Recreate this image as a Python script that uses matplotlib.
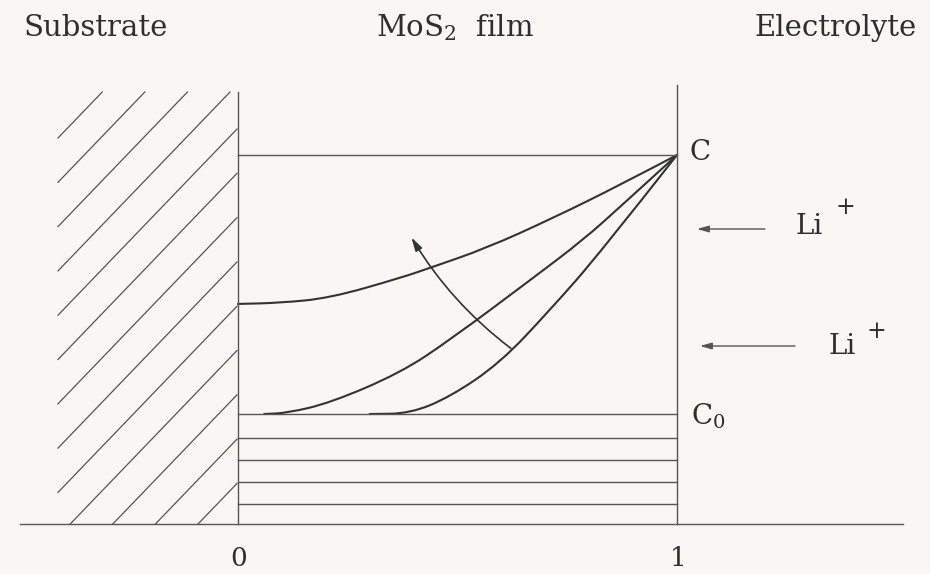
import matplotlib
matplotlib.use("Agg")
import matplotlib.pyplot as plt
from matplotlib.patches import FancyArrowPatch, PathPatch
from matplotlib.path import Path

plt.rcParams['font.family'] = ['DejaVu Serif']
plt.rcParams['mathtext.fontset'] = 'dejavuserif'

# concentration profiles: x = position in film (0 substrate side, 1 electrolyte side),
# y = normalised concentration (0 = C0, 1 = C)
x1 = [0.0, 0.096, 0.210, 0.369, 0.437, 0.567, 0.718, 0.870, 1.0]
y1 = [0.425, 0.429, 0.448, 0.525, 0.564, 0.641, 0.757, 0.884, 1.0]
x2 = [0.060, 0.112, 0.210, 0.369, 0.483, 0.672, 0.786, 0.870, 1.0]
y2 = [0.0, 0.004, 0.043, 0.158, 0.286, 0.525, 0.672, 0.799, 1.0]
x3 = [0.30, 0.392, 0.483, 0.597, 0.711, 0.825, 1.0]
y3 = [0.0, 0.002, 0.066, 0.197, 0.402, 0.622, 1.0]

# initial layered region below C0
layers = [0.0, -0.093, -0.178, -0.263, -0.347]
base = -0.425
c_level = 1.0

# pixel <-> data mapping of the scanned drawing
W, H = 930, 574
X0, SX, Y0, SY = 238.0, 439.0, 414.0, 259.0


def dx(px):
    return (px - X0) / SX


def dy(py):
    return (Y0 - py) / SY


def ff(px, py):
    return (px / W, 1 - py / H)


def smooth(xs, ys):
    pts = list(zip(xs, ys))
    verts = [pts[0], ((pts[0][0] + pts[1][0]) / 2, (pts[0][1] + pts[1][1]) / 2)]
    codes = [Path.MOVETO, Path.LINETO]
    for i in range(1, len(pts) - 1):
        nxt = pts[i + 1]
        mid = ((pts[i][0] + nxt[0]) / 2, (pts[i][1] + nxt[1]) / 2)
        if i == len(pts) - 2:
            mid = nxt
        verts += [pts[i], mid]
        codes += [Path.CURVE3, Path.CURVE3]
    return Path(verts, codes)


line_col = '#555555'
curve_col = '#333333'
txt_col = '#2e2e2e'

fig = plt.figure(figsize=(9.3, 5.74), dpi=100)
fig.patch.set_facecolor('#f8f7f4')
ax = fig.add_axes([0, 0, 1, 1])
ax.set_facecolor('#f8f7f4')
ax.set_xlim(dx(0), dx(W))
ax.set_ylim(dy(H), dy(0))
ax.axis('off')

# baseline and boundaries
ax.plot([dx(20), dx(903)], [base, base], color=line_col, lw=1.0)
ax.plot([0, 0], [base, dy(92)], color=line_col, lw=1.0)
ax.plot([1, 1], [base, dy(85)], color=line_col, lw=1.0)
ax.plot([0, 1], [c_level, c_level], color=line_col, lw=1.0)
for lv in layers:
    ax.plot([0, 1], [lv, lv], color=line_col, lw=1.0)

# substrate hatching
left, right, top, bottom = 58, 237, 92, 524
slope = 1.04
for k in range(13):
    c = 138 + 44.3 * k
    pts = []
    # line: py = c - slope*(px - left)
    for px in (left, right):
        py = c - slope * (px - left)
        if top <= py <= bottom:
            pts.append((px, py))
    for py in (top, bottom):
        px = left + (c - py) / slope
        if left <= px <= right:
            pts.append((px, py))
    pts = sorted(set(pts))[:2]
    if len(pts) == 2:
        ax.plot([dx(p[0]) for p in pts], [dy(p[1]) for p in pts],
                color=line_col, lw=0.9)

# concentration curves
for xs, ys in ((x1, y1), (x2, y2), (x3, y3)):
    ax.add_patch(PathPatch(smooth(xs, ys), fill=False, edgecolor=curve_col,
                           lw=1.5, joinstyle='round', capstyle='round'))

# time arrow across the curves
arr = FancyArrowPatch((dx(513), dy(350)), (dx(410), dy(235)),
                      connectionstyle='arc3,rad=-0.10',
                      arrowstyle='-|>,head_length=0.8,head_width=0.22',
                      mutation_scale=10, color=curve_col, lw=1.2)
ax.add_patch(arr)

# Li+ arrows
for (tx, hx, yy) in ((765, 697, 229), (795, 700, 346)):
    ax.annotate('', xy=ff(hx, yy), xytext=ff(tx, yy),
                xycoords='figure fraction', textcoords='figure fraction',
                arrowprops=dict(arrowstyle='-|>,head_length=0.7,head_width=0.2',
                                color=line_col, lw=1.0, shrinkA=0, shrinkB=0))

# titles
fig.text(*ff(96, 36), 'Substrate', ha='center', va='baseline', fontsize=21, color=txt_col)
fig.text(*ff(455, 36), 'MoS$_2$  film', ha='center', va='baseline', fontsize=21, color=txt_col)
fig.text(*ff(836, 36), 'Electrolyte', ha='center', va='baseline', fontsize=21, color=txt_col)

# labels
fig.text(*ff(689, 152), 'C', ha='left', va='center', fontsize=20, color=txt_col)
fig.text(*ff(691, 416), 'C$_0$', ha='left', va='center', fontsize=20, color=txt_col)
fig.text(*ff(795, 226), 'Li', ha='left', va='center', fontsize=20, color=txt_col)
fig.text(*ff(845, 208), '+', ha='center', va='center', fontsize=17, color=txt_col)
fig.text(*ff(828, 347), 'Li', ha='left', va='center', fontsize=20, color=txt_col)
fig.text(*ff(876, 331), '+', ha='center', va='center', fontsize=17, color=txt_col)
fig.text(*ff(239, 559), '0', ha='center', va='center', fontsize=19, color=txt_col)
fig.text(*ff(678, 558), '1', ha='center', va='center', fontsize=19, color=txt_col)

fig.savefig('out.png', dpi=100, facecolor=fig.get_facecolor())
